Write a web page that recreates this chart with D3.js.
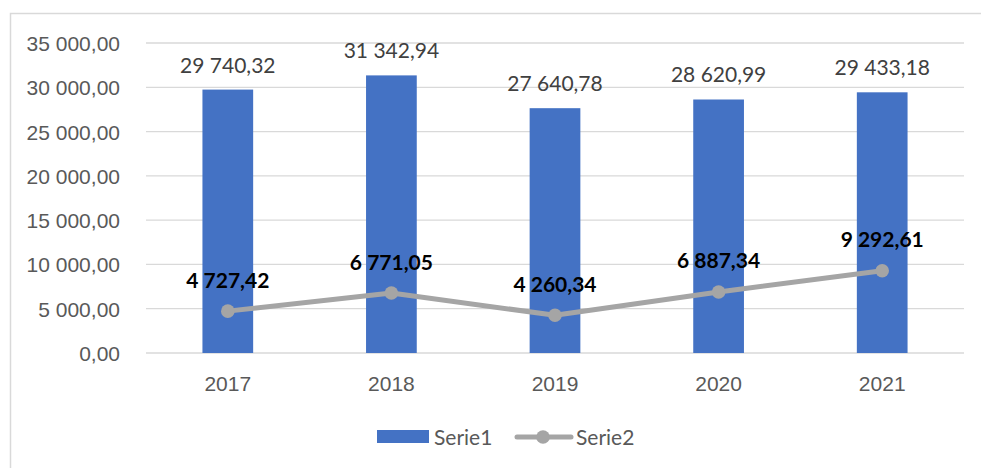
<!DOCTYPE html>
<html>
<head>
  <meta charset="utf-8">
  <script src="https://d3js.org/d3.v7.min.js"></script>
  <style>
    body { margin: 0; background: #fff; }
    svg { display: block; font-family: Lato, "Liberation Sans", sans-serif; }
  </style>
</head>
<body>
  <div id="chart"></div>

  <script>
    // chart data
    const years = ["2017", "2018", "2019", "2020", "2021"];
    const serie1 = [29740.32, 31342.94, 27640.78, 28620.99, 29433.18];
    const serie2 = [4727.42, 6771.05, 4260.34, 6887.34, 9292.61];
    const yTicks = [0, 5000, 10000, 15000, 20000, 25000, 30000, 35000];

    const width = 981, height = 468;
    const margin = { top: 43, right: 17, bottom: 115, left: 146 };
    const fontSize = "21px";

    // number format like "29 740,32"
    const fmt = d3.formatLocale({ decimal: ",", thousands: " ", grouping: [3], currency: ["", ""] }).format(",.2f");

    const svg = d3.select("#chart")
      .append("svg")
      .attr("width", width)
      .attr("height", height);

    // chart area border (only top and left visible in the picture)
    svg.append("rect")
      .attr("x", 10.5).attr("y", 13.5)
      .attr("width", 1000).attr("height", 500)
      .attr("fill", "none")
      .attr("stroke", "#d9d9d9")
      .attr("stroke-width", 1.5);

    const x = d3.scaleBand()
      .domain(years)
      .range([margin.left, width - margin.right])
      .paddingInner(0.69)
      .paddingOuter(0.345);

    const y = d3.scaleLinear()
      .domain([0, 35000])
      .range([height - margin.bottom, margin.top]);

    // gridlines
    svg.append("g")
      .selectAll("line")
      .data(yTicks)
      .join("line")
      .attr("x1", margin.left)
      .attr("x2", width - margin.right)
      .attr("y1", d => y(d))
      .attr("y2", d => y(d))
      .attr("stroke", "#d9d9d9")
      .attr("stroke-width", 1.3);

    // y axis labels
    const yAxis = svg.append("g")
      .attr("transform", `translate(${margin.left - 23},0)`)
      .call(d3.axisLeft(y).tickValues(yTicks).tickFormat(fmt).tickSize(0));
    yAxis.select(".domain").remove();
    yAxis.selectAll("text")
      .attr("fill", "#595959")
      .style("font-size", fontSize)
      .attr("dy", "0.36em");

    // x axis labels
    const xAxis = svg.append("g")
      .attr("transform", `translate(0,${y(0)})`)
      .call(d3.axisBottom(x).tickSize(0));
    xAxis.select(".domain").remove();
    xAxis.selectAll("text")
      .attr("fill", "#595959")
      .style("font-size", fontSize)
      .attr("y", 38)
      .attr("dy", "0");

    // bars
    svg.append("g")
      .selectAll("rect")
      .data(serie1)
      .join("rect")
      .attr("x", (d, i) => x(years[i]))
      .attr("y", d => y(d))
      .attr("width", x.bandwidth())
      .attr("height", d => y(0) - y(d))
      .attr("fill", "#4472c4");

    // bar labels
    svg.append("g")
      .selectAll("text")
      .data(serie1)
      .join("text")
      .attr("x", (d, i) => x(years[i]) + x.bandwidth() / 2)
      .attr("y", d => y(d) - 17)
      .attr("text-anchor", "middle")
      .attr("fill", "#404040")
      .style("font-size", fontSize)
      .text(d => fmt(d));

    // line
    const line = d3.line()
      .x((d, i) => x(years[i]) + x.bandwidth() / 2)
      .y(d => y(d));

    svg.append("path")
      .datum(serie2)
      .attr("d", line)
      .attr("fill", "none")
      .attr("stroke", "#a5a5a5")
      .attr("stroke-width", 5)
      .attr("stroke-linejoin", "round");

    svg.append("g")
      .selectAll("circle")
      .data(serie2)
      .join("circle")
      .attr("cx", (d, i) => x(years[i]) + x.bandwidth() / 2)
      .attr("cy", d => y(d))
      .attr("r", 6.8)
      .attr("fill", "#a5a5a5");

    // line labels
    svg.append("g")
      .selectAll("text")
      .data(serie2)
      .join("text")
      .attr("x", (d, i) => x(years[i]) + x.bandwidth() / 2)
      .attr("y", d => y(d) - 23.5)
      .attr("text-anchor", "middle")
      .attr("fill", "#000")
      .style("font-size", fontSize)
      .style("font-weight", "bold")
      .text(d => fmt(d));

    // legend
    const legend = svg.append("g").attr("transform", "translate(0,437)");
    legend.append("rect")
      .attr("x", 377).attr("y", -7)
      .attr("width", 52).attr("height", 13)
      .attr("fill", "#4472c4");
    legend.append("text")
      .attr("x", 434).attr("y", 0).attr("dy", "0.36em")
      .attr("fill", "#595959")
      .style("font-size", fontSize)
      .text("Serie1");
    legend.append("line")
      .attr("x1", 517).attr("x2", 571)
      .attr("y1", 0).attr("y2", 0)
      .attr("stroke", "#a5a5a5")
      .attr("stroke-width", 5)
      .attr("stroke-linecap", "round");
    legend.append("circle")
      .attr("cx", 543).attr("cy", 0).attr("r", 6.8)
      .attr("fill", "#a5a5a5");
    legend.append("text")
      .attr("x", 576).attr("y", 0).attr("dy", "0.36em")
      .attr("fill", "#595959")
      .style("font-size", fontSize)
      .text("Serie2");
  </script>
</body>
</html>
